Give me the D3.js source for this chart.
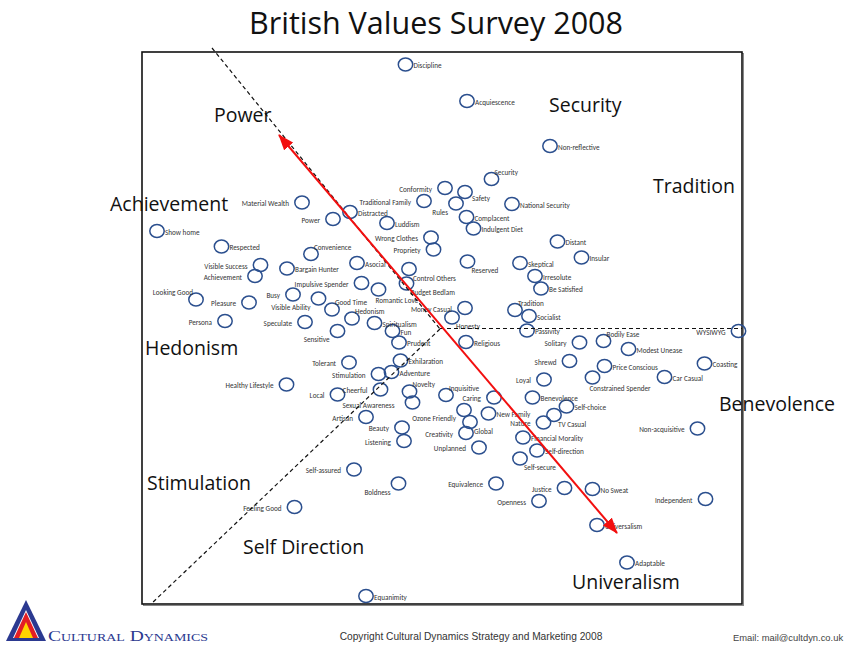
<!DOCTYPE html>
<html>
<head>
<meta charset="utf-8">
<script src="https://cdn.jsdelivr.net/npm/d3@7"></script>
<style>
  body { margin: 0; background: #fff; }
  svg { display: block; }
</style>
</head>
<body>
<div class="chart"></div>
<script>
// values on the map, in map units (x: 0..600 left to right, y: 0..552 bottom to top)
var values = ['Discipline', 'Acquiescence', 'Non-reflective', 'Security', 'Conformity', 'Safety',
  'Traditional Family', 'Rules', 'National Security', 'Distracted', 'Complacent', 'Luddism',
  'Indulgent Diet', 'Material Wealth', 'Power', 'Wrong Clothes', 'Propriety', 'Convenience',
  'Show home', 'Respected', 'Visible Success', 'Achievement', 'Bargain Hunter', 'Distant',
  'Insular', 'Reserved', 'Skeptical', 'Asocial', 'Control Others', 'Irresolute',
  'Impulsive Spender', 'Budget Bedlam', 'Be Satisfied', 'Romantic Love', 'Busy', 'Visible Ability',
  'Good Time', 'Looking Good', 'Pleasure', 'Money Casual', 'Honesty', 'Tradition',
  'Socialist', 'Hedonism', 'Spiritualism', 'Fun', 'Passivity', 'Persona',
  'Speculate', 'Sensitive', 'Prudent', 'Religious', 'WYSIWYG', 'Bodily Ease',
  'Solitary', 'Modest Unease', 'Shrewd', 'Coasting', 'Price Conscious', 'Tolerant',
  'Exhilaration', 'Stimulation', 'Adventure', 'Healthy Lifestyle', 'Loyal', 'Constrained Spender',
  'Car Casual', 'Cheerful', 'Local', 'Novelty', 'Inquisitive', 'Benevolence',
  'Caring', 'Sexual Awareness', 'Self-choice', 'Ozone Friendly', 'New Family', 'TV Casual',
  'Artisan', 'Global', 'Nature', 'Beauty', 'Non-acquisitive', 'Creativity',
  'Financial Morality', 'Listening', 'Unplanned', 'Self-direction', 'Self-secure', 'Self-assured',
  'Boldness', 'Equivalence', 'Justice', 'No Sweat', 'Openness', 'Feeling Good',
  'Independent', 'Universalism', 'Adaptable', 'Equanimity'];

var valueX = [263.5, 325, 408, 349.5, 303, 323,
  282, 314, 370, 208, 324.5, 245,
  331.5, 160, 191, 289, 291.5, 169,
  15, 79.5, 118.5, 113, 145, 415.5,
  439.5, 325.5, 378, 215, 267, 393,
  219.5, 264.5, 399, 236.5, 151, 176.5,
  190, 54, 107, 323, 310, 373,
  387, 210, 232.5, 250.5, 385, 83,
  163, 195.5, 257, 324, 596.5, 461.5,
  437.5, 486.5, 427.5, 562.5, 462.5, 207,
  258.5, 236.5, 249.5, 144.5, 402, 450.5,
  522.5, 238.5, 195.5, 267.5, 304, 390.5,
  352, 270.5, 424.5, 322, 346.5, 412,
  224, 328, 401.5, 260, 555.5, 324,
  381, 262, 337, 395, 378, 212,
  256.5, 354, 422.5, 450.5, 397, 152.5,
  563.5, 455, 485, 224];

var valueY = [539.5, 503, 458, 425, 416, 412,
  403, 400.5, 400, 392, 387, 381,
  375.5, 401.5, 385, 366.5, 354.5, 350,
  373, 357.5, 339, 328, 335.5, 362.5,
  346.5, 342.5, 341, 341, 335, 328,
  321, 320.5, 315.5, 314.5, 309.5, 305.5,
  294.5, 304.5, 301.5, 296, 286.5, 294,
  288, 285.5, 281, 273, 273.5, 283,
  282, 273, 261.5, 262, 273, 263,
  261.5, 255, 243, 240.5, 238, 241.5,
  243.5, 230, 232, 219.5, 224.5, 226.5,
  227, 214.5, 209.5, 212.5, 209, 206.5,
  206.5, 201.5, 197.5, 194, 190.5, 189,
  187, 182, 181.5, 176.5, 175.5, 171,
  166.5, 163, 156.5, 153.5, 145.5, 134.5,
  120.5, 120.5, 116, 115, 103, 97,
  105, 79, 41.5, 8];

// value system names around the map
var regions = ['Power', 'Security', 'Tradition', 'Achievement', 'Hedonism',
  'Benevolence', 'Stimulation', 'Self Direction', 'Univeralism'];

// ---- layout (not data) ----
var width = 858, height = 648;
var box = { left: 142, top: 52, right: 742, bottom: 604 };

// where each label sits relative to its circle
var labelSide = {
  'Security': 'ar', 'Convenience': 'ar', 'Tradition': 'ar', 'Hedonism': 'ar', 'Bodily Ease': 'ar',
  'Novelty': 'ar', 'Inquisitive': 'ar', 'Good Time': 'ar',
  'Looking Good': 'al',
  'Reserved': 'br', 'Control Others': 'br', 'Budget Bedlam': 'br', 'Honesty': 'br',
  'TV Casual': 'br', 'Global': 'br', 'Self-secure': 'br',
  'Romantic Love': 'b', 'Constrained Spender': 'b',
  'Rules': 'bl', 'Visible Ability': 'bl', 'Sensitive': 'bl', 'Ozone Friendly': 'bl', 'Boldness': 'bl',
  'Safety': 'rb', 'Sexual Awareness': 'lf'
};
var rightSide = ['Discipline', 'Acquiescence', 'Non-reflective', 'National Security', 'Distracted',
  'Complacent', 'Luddism', 'Indulgent Diet', 'Show home', 'Respected', 'Bargain Hunter', 'Distant',
  'Insular', 'Skeptical', 'Asocial', 'Irresolute', 'Be Satisfied', 'Socialist', 'Spiritualism',
  'Fun', 'Passivity', 'Prudent', 'Religious', 'Modest Unease', 'Coasting', 'Price Conscious',
  'Exhilaration', 'Adventure', 'Car Casual', 'Benevolence', 'Self-choice', 'New Family',
  'Financial Morality', 'Self-direction', 'No Sweat', 'Universalism', 'Adaptable', 'Equanimity'];
var offsets = {
  r: [8, 3.5, 'start'], l: [-13, 3.5, 'end'], lf: [-18, 5, 'end'],
  ar: [3, -4.5, 'start'], al: [-3, -5, 'end'],
  br: [4, 11.5, 'start'], bl: [-8, 11, 'end'], b: [-3, 13, 'start'],
  rb: [7, 9, 'start']
};

// region label anchor (left edge, baseline) in map units
var regionAt = {
  'Power': [72, 482], 'Security': [407, 492], 'Tradition': [511, 411],
  'Achievement': [-32, 393], 'Hedonism': [3, 249], 'Benevolence': [577, 193],
  'Stimulation': [5, 114], 'Self Direction': [101, 50], 'Univeralism': [430, 15]
};

// guide lines in map units
var dashed = [
  [[70, 556], [298, 275]],
  [[298, 275], [9, 0]],
  [[298, 275.5], [600, 275.5]]
];
var arrow = [[137, 469], [475, 71]];

var xScale = d3.scaleLinear().domain([0, 600]).range([box.left, box.right]);
var yScale = d3.scaleLinear().domain([0, 552]).range([box.bottom, box.top]);

var points = values.map(function (name, i) {
  var side = labelSide[name] || (rightSide.indexOf(name) >= 0 ? 'r' : 'l');
  return { name: name, x: valueX[i], y: valueY[i], side: side };
});

var svg = d3.select('.chart')
  .append('svg')
    .attr('width', width)
    .attr('height', height);

var font = 'Carlito, Lato, sans-serif';
var bigFont = '"Open Sans", Lato, sans-serif';

// title
svg.append('text')
  .attr('x', 436)
  .attr('y', 33.5)
  .attr('text-anchor', 'middle')
  .style('font-family', bigFont)
  .style('font-size', '30.5px')
  .style('fill', '#111')
  .text('British Values Survey 2008');

// frame with a faint shadow
svg.append('rect')
  .attr('x', box.left + 1.5)
  .attr('y', box.top + 1.5)
  .attr('width', box.right - box.left)
  .attr('height', box.bottom - box.top)
  .style('fill', 'none')
  .style('stroke', '#888')
  .style('stroke-width', 1);
svg.append('rect')
  .attr('x', box.left)
  .attr('y', box.top)
  .attr('width', box.right - box.left)
  .attr('height', box.bottom - box.top)
  .style('fill', '#fff')
  .style('stroke', '#111')
  .style('stroke-width', 1.6);

var line = d3.line()
  .x(d => xScale(d[0]))
  .y(d => yScale(d[1]));

// circles
svg.append('g')
  .selectAll('ellipse')
  .data(points)
  .enter()
  .append('ellipse')
    .attr('cx', d => xScale(d.x))
    .attr('cy', d => yScale(d.y))
    .attr('rx', 7.2)
    .attr('ry', 6.6)
    .style('fill', 'none')
    .style('stroke', '#2b4f8e')
    .style('stroke-width', 1.5);

// labels
svg.append('g')
  .selectAll('text')
  .data(points)
  .enter()
  .append('text')
    .attr('x', d => xScale(d.x) + offsets[d.side][0])
    .attr('y', d => yScale(d.y) + offsets[d.side][1])
    .attr('text-anchor', d => offsets[d.side][2])
    .style('font-family', font)
    .style('font-size', '7.2px')
    .style('fill', '#333')
    .text(d => d.name);

// dashed guides
svg.append('g')
  .selectAll('path')
  .data(dashed)
  .enter()
  .append('path')
    .attr('d', line)
    .style('fill', 'none')
    .style('stroke', '#111')
    .style('stroke-width', 1.2)
    .style('stroke-dasharray', '4,3');

// red double arrow
var defs = svg.append('defs');
['start', 'end'].forEach(function (k) {
  defs.append('marker')
    .attr('id', 'head-' + k)
    .attr('markerUnits', 'userSpaceOnUse')
    .attr('viewBox', '0 0 16 12')
    .attr('refX', 15)
    .attr('refY', 6)
    .attr('markerWidth', 16)
    .attr('markerHeight', 12)
    .attr('orient', k === 'start' ? 'auto-start-reverse' : 'auto')
    .append('path')
      .attr('d', 'M0,0 L16,6 L0,12 Z')
      .style('fill', '#f20f0f');
});
svg.append('path')
  .attr('d', line(arrow))
  .style('fill', 'none')
  .style('stroke', '#f20f0f')
  .style('stroke-width', 2)
  .attr('marker-start', 'url(#head-start)')
  .attr('marker-end', 'url(#head-end)');

// region names
svg.append('g')
  .selectAll('text')
  .data(regions)
  .enter()
  .append('text')
    .attr('x', d => xScale(regionAt[d][0]))
    .attr('y', d => yScale(regionAt[d][1]))
    .style('font-family', bigFont)
    .style('font-size', '19.5px')
    .style('fill', '#111')
    .text(d => d);

// footer: logo, copyright, email
var logo = svg.append('g');
logo.append('path').attr('d', 'M26,600 L6,641 L46,641 Z').style('fill', '#2b3990');
logo.append('path').attr('d', 'M26,610 L13,638 L39,638 Z').style('fill', '#fff');
logo.append('path').attr('d', 'M26,612 L14,638 L38,638 Z').style('fill', '#e31e24');
logo.append('path').attr('d', 'M26,622 L19,638 L33,638 Z').style('fill', '#ffd400');

svg.append('text')
  .attr('x', 48)
  .attr('y', 641)
  .attr('textLength', 160)
  .attr('lengthAdjust', 'spacingAndGlyphs')
  .style('font-family', 'Liberation Serif, serif')
  .style('font-variant', 'small-caps')
  .style('font-size', '14px')
  .style('fill', '#2b3990')
  .text('Cultural Dynamics');

svg.append('text')
  .attr('x', 471)
  .attr('y', 640)
  .attr('text-anchor', 'middle')
  .style('font-family', 'Liberation Sans, Arial, sans-serif')
  .style('font-size', '10.2px')
  .style('fill', '#333')
  .text('Copyright Cultural Dynamics Strategy and Marketing 2008');

svg.append('text')
  .attr('x', 733)
  .attr('y', 641)
  .style('font-family', 'Liberation Sans, Arial, sans-serif')
  .style('font-size', '9.4px')
  .style('fill', '#444')
  .text('Email:  mail@cultdyn.co.uk');
</script>
</body>
</html>
